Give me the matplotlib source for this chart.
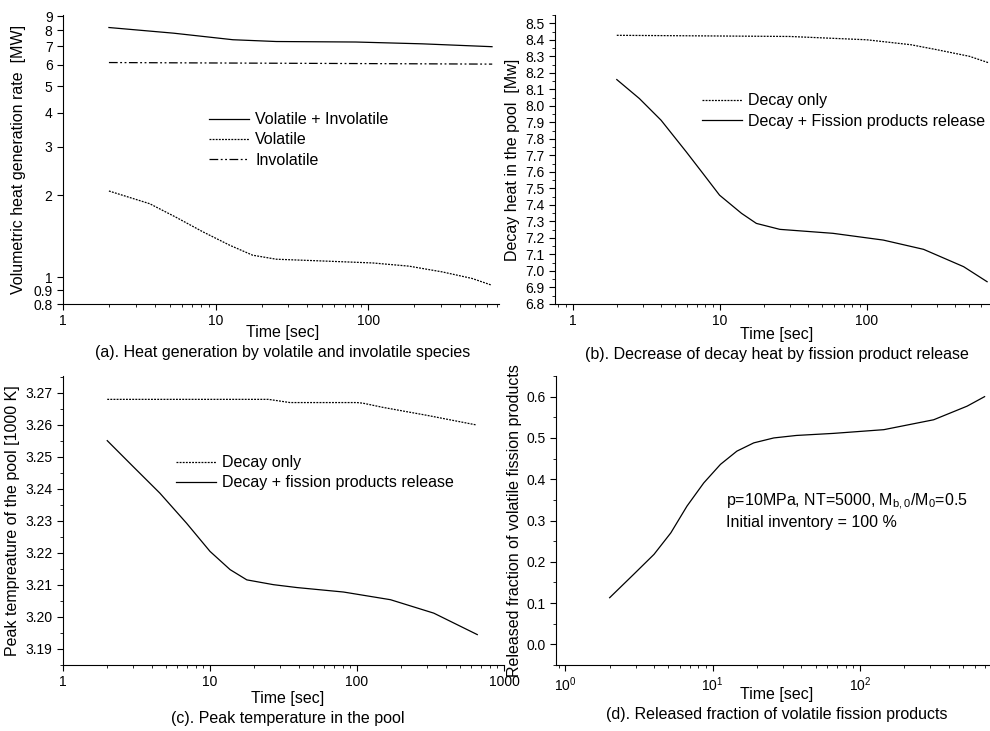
import matplotlib
matplotlib.use("Agg")
import matplotlib.pyplot as plt
from matplotlib.ticker import (FixedLocator, FixedFormatter, FormatStrFormatter,
                               LogLocator, MultipleLocator, NullFormatter, NullLocator)

plt.rcParams['font.family'] = ['Liberation Sans', 'DejaVu Sans']
plt.rcParams['font.size'] = 10
plt.rcParams['mathtext.fontset'] = 'custom'
plt.rcParams['mathtext.rm'] = 'Liberation Sans'
plt.rcParams['mathtext.it'] = 'Liberation Sans'

# (a) volumetric heat generation rate [MW]
t_a = [2, 5.3, 13, 25, 83, 226, 648]
total_a = [8.19, 7.81, 7.39, 7.28, 7.25, 7.14, 6.97]
t_vol = [2, 3.7, 5.5, 8.3, 12.4, 17.5, 25, 50, 107, 185, 306, 479, 646]
volatile_a = [2.07, 1.86, 1.66, 1.466, 1.311, 1.206, 1.166, 1.149, 1.13, 1.10, 1.048, 0.992, 0.937]
t_inv = [2, 650]
involatile_a = [6.10, 6.02]

# (b) decay heat in the pool [Mw]
t_b_only = [2, 30, 100, 200, 300, 500, 680]
decay_only_b = [8.427, 8.42, 8.40, 8.37, 8.34, 8.30, 8.26]
t_b = [2, 2.85, 4.0, 5.94, 7.7, 10, 14.1, 17.8, 25.7, 59, 130, 244, 457, 660]
decay_fp_b = [8.159, 8.044, 7.913, 7.721, 7.591, 7.459, 7.349, 7.288, 7.252, 7.228, 7.187, 7.131, 7.026, 6.935]

# (c) peak temperature [1000 K]
t_c_only = [2, 25, 35, 100, 110, 150, 300, 650]
decay_only_c = [3.268, 3.268, 3.267, 3.267, 3.2668, 3.2655, 3.263, 3.260]
t_c = [2, 3.0, 4.56, 6.93, 10, 13.7, 17.8, 27, 39, 81, 169, 333, 658]
decay_fp_c = [3.2551, 3.247, 3.2387, 3.2293, 3.2205, 3.2148, 3.2116, 3.2101, 3.2092, 3.2078, 3.2054, 3.2012, 3.1945]

# (d) released fraction
t_d = [2, 2.9, 4.0, 5.2, 6.7, 8.7, 11.3, 14.6, 19, 26, 37, 66, 145, 316, 533, 700]
frac_d = [0.113, 0.169, 0.218, 0.270, 0.335, 0.391, 0.436, 0.468, 0.488, 0.500, 0.506,
          0.511, 0.520, 0.544, 0.577, 0.600]

W, H = 990, 731
fig = plt.figure(figsize=(9.9, 7.31), dpi=100)
FS = 11.5


def px_axes(left, top, right, bottom):
    return fig.add_axes([left / W, (H - bottom) / H, (right - left) / W, (bottom - top) / H])


def style(ax):
    ax.spines['top'].set_visible(False)
    ax.spines['right'].set_visible(False)
    ax.tick_params(which='both', direction='out', color='black', labelsize=10)
    ax.tick_params(which='major', length=4, width=0.8)
    ax.tick_params(which='minor', length=2.5, width=0.6)
    ax.set_xscale('log')
    ax.xaxis.set_minor_locator(LogLocator(base=10, subs=range(2, 10)))
    ax.xaxis.set_minor_formatter(NullFormatter())


def legend(ax, x, y):
    ax.legend(loc='upper left', bbox_to_anchor=(x, y), frameon=False, fontsize=FS,
              borderpad=0, borderaxespad=0, handlelength=2.5, handletextpad=0.4,
              labelspacing=0.33)


dotted = (0, (1.5, 1))
dashdot = (0, (7, 2, 1.5, 2, 1.5, 2))
lw = 0.9

# ---- (a)
ax = px_axes(63, 15, 499, 304)
style(ax)
ax.set_yscale('log')
ax.plot(t_a, total_a, color='black', lw=lw, label='Volatile + Involatile')
ax.plot(t_vol, volatile_a, color='black', lw=lw, ls=dotted, label='Volatile')
ax.plot(t_inv, involatile_a, color='black', lw=lw, ls=dashdot, label='Involatile')
ax.set_xlim(1, 720)
ax.set_ylim(0.8, 9.1)
yt = [0.8, 0.9, 1, 2, 3, 4, 5, 6, 7, 8, 9]
ax.yaxis.set_major_locator(FixedLocator(yt))
ax.yaxis.set_major_formatter(FixedFormatter(['0.8', '0.9', '1', '2', '3', '4', '5', '6', '7', '8', '9']))
ax.yaxis.set_minor_locator(NullLocator())
ax.xaxis.set_major_locator(FixedLocator([1, 10, 100]))
ax.xaxis.set_major_formatter(FixedFormatter(['1', '10', '100']))
ax.set_ylabel('Volumetric heat generation rate  [MW]', fontsize=FS, labelpad=5)
legend(ax, 0.335, 0.664)

# ---- (b)
ax = px_axes(555, 15, 989, 304)
style(ax)
ax.plot(t_b_only, decay_only_b, color='black', lw=lw, ls=dotted, label='Decay only')
ax.plot(t_b, decay_fp_b, color='black', lw=lw, label='Decay + Fission products release')
ax.set_xlim(0.76, 680)
ax.set_ylim(6.8, 8.55)
ax.yaxis.set_major_locator(MultipleLocator(0.1))
ax.yaxis.set_minor_locator(MultipleLocator(0.05))
ax.yaxis.set_major_formatter(FormatStrFormatter('%.1f'))
ax.xaxis.set_major_locator(FixedLocator([1, 10, 100]))
ax.xaxis.set_major_formatter(FixedFormatter(['1', '10', '100']))
ax.set_ylabel('Decay heat in the pool  [Mw]', fontsize=FS, labelpad=4)
legend(ax, 0.339, 0.729)

# ---- (c)
ax = px_axes(63, 376, 504, 665)
style(ax)
ax.plot(t_c_only, decay_only_c, color='black', lw=lw, ls=dotted, label='Decay only')
ax.plot(t_c, decay_fp_c, color='black', lw=lw, label='Decay + fission products release')
ax.set_xlim(1, 1000)
ax.set_ylim(3.185, 3.2753)
ax.yaxis.set_major_locator(MultipleLocator(0.01))
ax.yaxis.set_minor_locator(MultipleLocator(0.005))
ax.yaxis.set_major_formatter(FormatStrFormatter('%.2f'))
ax.xaxis.set_major_locator(FixedLocator([1, 10, 100, 1000]))
ax.xaxis.set_major_formatter(FixedFormatter(['1', '10', '100', '1000']))
ax.set_ylabel('Peak tempreature of the pool [1000 K]', fontsize=FS, labelpad=4)
legend(ax, 0.256, 0.726)

# ---- (d)
ax = px_axes(556, 376, 989, 665)
style(ax)
ax.plot(t_d, frac_d, color='black', lw=lw)
ax.set_xlim(0.865, 750)
ax.set_ylim(-0.05, 0.65)
ax.yaxis.set_major_locator(MultipleLocator(0.1))
ax.yaxis.set_minor_locator(MultipleLocator(0.05))
ax.yaxis.set_major_formatter(FormatStrFormatter('%.1f'))
ax.xaxis.set_major_locator(FixedLocator([1, 10, 100]))
ax.xaxis.set_major_formatter(FixedFormatter(['$10^0$', '$10^1$', '$10^2$']))
ax.set_ylabel('Released fraction of volatile fission products', fontsize=FS, labelpad=3)
ax.text(0.393, 0.6, 'p=10MPa, NT=5000, M$_{b,0}$/M$_0$=0.5\nInitial inventory = 100 %',
        transform=ax.transAxes, fontsize=FS, va='top', linespacing=1.3)

# x labels and captions
for x, y_time, y_cap, cap in [
    (283, 333, 352, '(a). Heat generation by volatile and involatile species'),
    (777, 335, 354, '(b). Decrease of decay heat by fission product release'),
    (288, 698, 718, '(c). Peak temperature in the pool'),
    (777, 694, 714, '(d). Released fraction of volatile fission products'),
]:
    fig.text(x / W, 1 - y_time / H, 'Time [sec]', ha='center', va='center', fontsize=FS)
    fig.text(x / W, 1 - y_cap / H, cap, ha='center', va='center', fontsize=FS)

fig.savefig('out.png', dpi=100)
